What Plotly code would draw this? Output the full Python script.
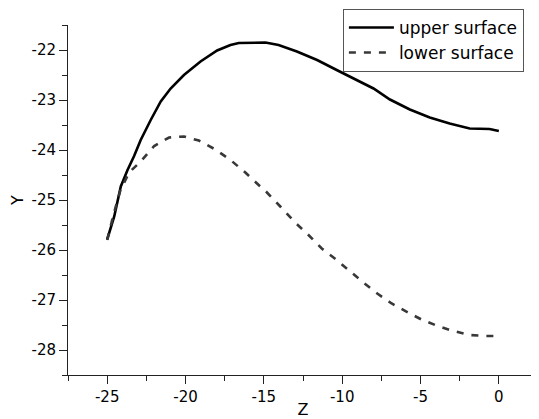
import plotly.graph_objects as go

# upper surface
upper_z = [-25.0, -24.55, -24.13, -23.7, -23.28, -22.86, -22.22, -21.58, -20.95, -20.1,
           -19.04, -17.98, -17.13, -16.6, -14.9, -14.06, -12.89, -11.6, -10.35, -9.07,
           -8.0, -6.95, -5.68, -4.41, -3.14, -1.86, -0.59, 0.0]
upper_y = [-25.79, -25.33, -24.73, -24.4, -24.12, -23.8, -23.4, -23.03, -22.77, -22.5,
           -22.23, -22.01, -21.9, -21.86, -21.85, -21.9, -22.03, -22.2, -22.4, -22.6,
           -22.77, -22.99, -23.19, -23.35, -23.47, -23.57, -23.58, -23.62]

# lower surface
lower_z = [-25.0, -24.6, -24.15, -23.6, -22.86, -22.0, -21.05, -20.1, -19.15, -18.09,
           -17.13, -16.18, -15.33, -14.8, -13.95, -13.0, -12.15, -11.3, -10.35, -9.5,
           -8.65, -7.76, -6.84, -5.79, -4.94, -3.98, -3.03, -1.86, -0.8, 0.0]
lower_y = [-25.8, -25.3, -24.8, -24.45, -24.23, -23.92, -23.75, -23.73, -23.81, -23.99,
           -24.2, -24.45, -24.7, -24.85, -25.13, -25.45, -25.7, -25.97, -26.2, -26.43,
           -26.65, -26.87, -27.07, -27.25, -27.39, -27.51, -27.61, -27.7, -27.72, -27.72]

x_ticks = [-25, -20, -15, -10, -5, 0]
y_ticks = [-28, -27, -26, -25, -24, -23, -22]

FONT = "DejaVu Sans, Arial, sans-serif"

fig = go.Figure()
fig.add_trace(go.Scatter(x=upper_z, y=upper_y, mode="lines", name="upper surface",
                         line=dict(color="black", width=2.6)))
fig.add_trace(go.Scatter(x=lower_z, y=lower_y, mode="lines", name="lower surface",
                         line=dict(color="#383838", width=2.6, dash="7px,8px")))

axis_common = dict(showgrid=False, zeroline=False, showline=True, linecolor="#222222",
                   linewidth=1, ticks="outside", ticklen=8, tickwidth=1, tickcolor="#222222",
                   automargin=False,
                   tickfont=dict(size=15, color="black", family=FONT))

fig.update_xaxes(range=[-27.5, 2.5], tickvals=x_ticks, ticktext=[str(v) for v in x_ticks],
                 title=dict(text="Z", font=dict(size=16, family=FONT), standoff=9),
                 minor=dict(ticks="outside", ticklen=5, tickwidth=1, tickcolor="#222222", dtick=2.5),
                 **axis_common)
fig.update_yaxes(range=[-28.5, -21.5], tickvals=y_ticks, ticktext=[str(v) for v in y_ticks],
                 title=dict(text="Y", font=dict(size=16, family=FONT), standoff=10),
                 minor=dict(ticks="outside", ticklen=5, tickwidth=1, tickcolor="#222222", dtick=0.5),
                 **axis_common)

fig.update_layout(
    width=531, height=411,
    margin=dict(l=60, r=1, t=17, b=44, autoexpand=False),
    plot_bgcolor="white", paper_bgcolor="white",
    font=dict(family=FONT, size=15, color="black"),
    legend=dict(x=0.97, y=1.046, xanchor="right", yanchor="top",
                bordercolor="#555555", borderwidth=1, bgcolor="white",
                font=dict(size=17, family=FONT), tracegroupgap=0, itemwidth=45),
    showlegend=True,
)

fig.write_html("out.html")
